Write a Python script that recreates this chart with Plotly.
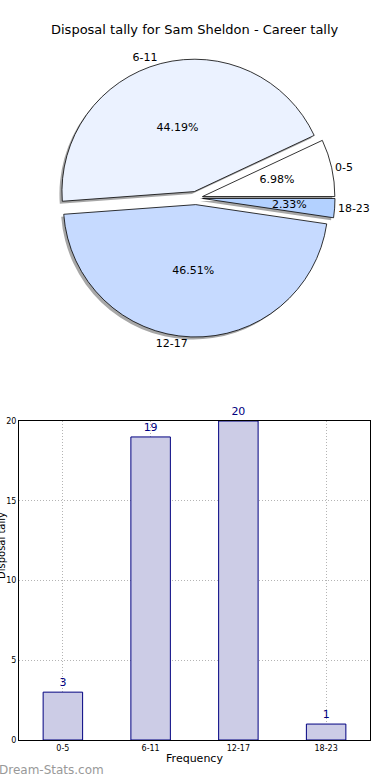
import plotly.graph_objects as go

categories = ["0-5", "6-11", "12-17", "18-23"]
counts = [3, 19, 20, 1]
pie_colors = ["#FFFFFF", "#EBF2FF", "#C6DAFF", "#B3D1FF"]
title_text = "Disposal tally for Sam Sheldon - Career tally"
y_title = "Disposal tally"
x_title = "Frequency"
watermark = "Dream-Stats.com"

W, H = 390, 780
FONT = "DejaVu Sans"

def px_x(x):
    return x / W

def px_y(y):
    return 1 - y / H

def dom(cx, cy, r):
    return dict(x=[px_x(cx - r), px_x(cx + r)], y=[px_y(cy + r), px_y(cy - r)])

cx, cy, r = 196, 198, 139
pie_dom = dom(cx, cy, r)
shadow_dom = dom(cx - 2.5, cy + 2.5, r)
inner_dom = dom(cx, cy, r * 0.72)   # percentage labels of thin slices sit nearer the centre

pull = [0.05, 0.05, 0.05, 0.05]
# first slice starts at 3 o'clock and runs counter-clockwise (as in the reference)
rot = 90 - 360 * counts[0] / sum(counts)
thin = [c / sum(counts) < 0.1 for c in counts]

common = dict(labels=categories, values=counts, sort=False, direction="counterclockwise",
              rotation=rot, pull=pull, showlegend=False)
clear = dict(colors=["rgba(0,0,0,0)"] * 4, line=dict(width=0))
pct_font = dict(family=FONT, size=11, color="black")

fig = go.Figure()

# shadow
fig.add_trace(go.Pie(
    **common, marker=dict(colors=["#8A8A8A"] * 4, line=dict(width=0)),
    textinfo="none", hoverinfo="skip", domain=shadow_dom, opacity=0.75,
))
# slices with outside labels
fig.add_trace(go.Pie(
    **common, marker=dict(colors=pie_colors, line=dict(color="black", width=0.8)),
    texttemplate="%{label}", textposition="outside", domain=pie_dom,
    outsidetextfont=dict(family=FONT, size=11, color="black"),
))
# percentages of the wide slices
fig.add_trace(go.Pie(
    **common, marker=clear,
    texttemplate=["" if t else "%{percent:.2%}" for t in thin],
    textposition="inside", insidetextorientation="horizontal",
    domain=pie_dom, insidetextfont=pct_font, hoverinfo="skip",
))
# percentages of the thin slices
fig.add_trace(go.Pie(
    **common, marker=clear,
    texttemplate=["%{percent:.2%}" if t else "" for t in thin],
    textposition="inside", insidetextorientation="horizontal",
    domain=inner_dom, insidetextfont=pct_font, hoverinfo="skip",
))

fig.add_trace(go.Bar(
    x=categories, y=counts, width=0.45,
    marker=dict(color="#CCCCE6", line=dict(color="#000080", width=1)),
    text=[str(v) for v in counts], textposition="outside", cliponaxis=False,
    textfont=dict(family=FONT, size=11, color="#000080"),
    showlegend=False, xaxis="x", yaxis="y",
))

grid = dict(showgrid=True, gridcolor="#B4B4B4", griddash="1px,2px", gridwidth=1)

fig.update_layout(
    width=W, height=H, margin=dict(l=0, r=0, t=0, b=0),
    paper_bgcolor="white", plot_bgcolor="white",
    font=dict(family=FONT, color="black"),
    uniformtext=dict(minsize=11, mode="show"),
    xaxis=dict(domain=[px_x(19), px_x(370)], anchor="y", range=[-0.5, 3.5], automargin=False,
               showline=True, mirror=True, linecolor="black", linewidth=1,
               layer="above traces", **grid,
               ticks="", tickfont=dict(size=8, family=FONT),
               title=dict(text=x_title, font=dict(size=11, family=FONT), standoff=2),
               zeroline=False, fixedrange=True),
    yaxis=dict(domain=[px_y(740), px_y(421)], anchor="x", range=[0, 20], automargin=False,
               tickvals=[0, 5, 10, 15, 20],
               showline=True, mirror=True, linecolor="black", linewidth=1,
               layer="above traces", **grid,
               ticks="", tickfont=dict(size=8, family=FONT), zeroline=False, fixedrange=True),
    annotations=[
        dict(text=title_text, x=0.5, y=px_y(30), xref="paper", yref="paper", yanchor="middle",
             showarrow=False, font=dict(size=13, family=FONT, color="black")),
        dict(text=y_title, x=px_x(-6), y=px_y(581), xref="paper", yref="paper",
             showarrow=False, textangle=-90, font=dict(size=10, family=FONT, color="black")),
        dict(text=watermark, x=px_x(-3), y=px_y(770), xref="paper", yref="paper",
             xanchor="left", yanchor="middle", showarrow=False,
             font=dict(size=12, family=FONT, color="#999999")),
    ],
)

fig.write_html("out.html", config={"displayModeBar": False},
               post_script="document.body.style.margin='0';")
